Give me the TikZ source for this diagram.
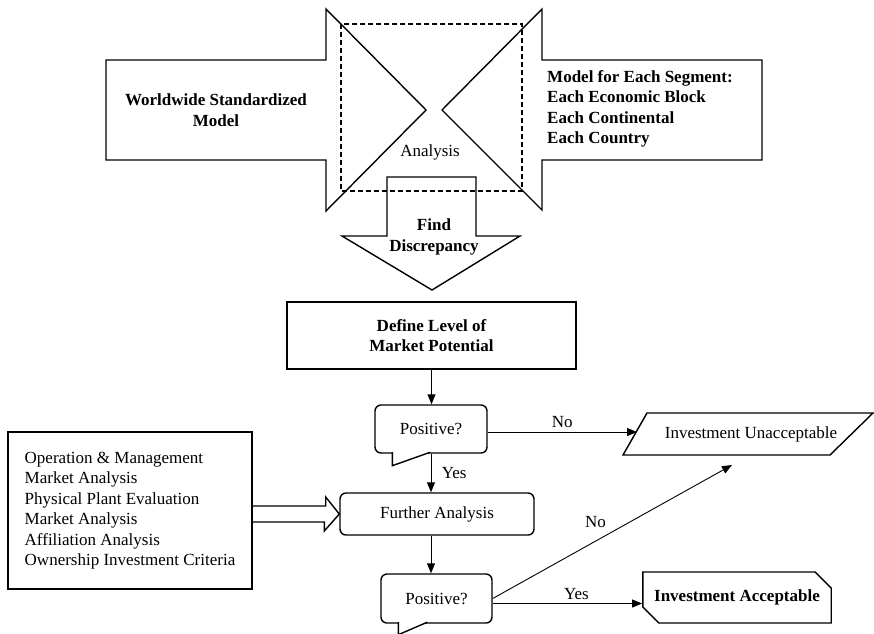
\documentclass[tikz,border=0pt]{standalone}
\usepackage{fontspec}
\setmainfont{Liberation Serif}
\usetikzlibrary{positioning,calc,arrows.meta,shapes.misc}
\newcommand{\dfont}{\fontsize{17}{20.5}\selectfont}

\begin{document}
\begin{tikzpicture}[x=1pt,y=-1pt,
    every node/.style={font=\dfont},
    bold/.style={font=\dfont\bfseries},
    blockline/.style={line width=1.4pt, line join=miter},
    dashbox/.style={line width=1.2pt, dash pattern=on 5pt off 3pt},
    box/.style={draw, line width=1.4pt, align=center},
    bubble/.style={box, rounded corners=6pt},
    flow/.style={line width=0.9pt, -{Triangle[length=10pt,width=8pt]}}]
\useasboundingbox (0,0) rectangle (874,633);

% the two models meet in the analysis
\draw[blockline] (106,60) -- (326,60) -- (326,9) -- (426,110) -- (326,211) -- (326,160) -- (106,160) -- cycle;
\draw[blockline] (762,60) -- (542,60) -- (542,9) -- (442,110) -- (542,210) -- (542,160) -- (762,160) -- cycle;
\draw[dashbox] (341,24) rectangle (522,191);
\draw[blockline] (387,177) -- (476,177) -- (476,236) -- (520,236) -- (432,290) -- (342,236) -- (387,236) -- cycle;

\node[bold, align=center] (world) at (216,110) {Worldwide Standardized\\Model};
\node[bold, align=left, anchor=west, inner sep=0pt] (segment) at (547,109) {Model for Each Segment:\\Each Economic Block\\Each Continental\\Each Country};
\node (analysis) at (430,152) {Analysis};
\node[bold, align=center] (find) at (434,237) {Find\\Discrepancy};

% flow chart
\node[box, bold, minimum width=289pt, minimum height=67pt] (level) at (431.5,335.5) {Define Level of\\Market Potential};
\node[bubble, minimum width=112pt, minimum height=48pt] (pos1) at (431,429) {Positive?};
\node[bubble, minimum width=194pt, minimum height=42pt] (further) at (437,514) {Further Analysis};
\node[bubble, minimum width=111pt, minimum height=49pt] (pos2) at (436.5,598.5) {Positive?};
\node[box, align=left, minimum width=244pt, minimum height=157pt] (criteria) at (130,510.5) {Operation \& Management\\Market Analysis\\Physical Plant Evaluation\\Market Analysis\\Affiliation Analysis\\Ownership Investment Criteria};
\node (unacc) at (751,434) {Investment Unacceptable};
\draw[blockline] (623,455) -- (647,413) -- (873,413) -- (830,455) -- cycle;
\node[bold, draw, line width=1.4pt, chamfered rectangle, chamfered rectangle corners={north east,south west}, chamfered rectangle xsep=8pt, chamfered rectangle ysep=8pt, minimum width=186pt, minimum height=51pt] (acc) at (737,597.5) {Investment Acceptable};

% callout tails
\draw[blockline, fill=white] ($(pos1.south west)+(18,-1.5)$) -- ($(pos1.south west)+(18,12)$) -- ($(pos1.south west)+(56,-1.5)$);
\draw[blockline, fill=white] ($(pos2.south west)+(18,-1.5)$) -- ($(pos2.south west)+(18,11)$) -- ($(pos2.south west)+(47,-1.5)$);

\coordinate (unaccIn) at (637,432);
\coordinate (unaccLow) at (732,465);

\draw[flow] (level.south) -- (level.south |- pos1.north);
\draw[flow] ([yshift=-3pt]pos1.east) -- node[above=1pt] {No} ([yshift=-3pt]pos1.east -| unaccIn);
\draw[flow] (pos1.south) -- node[right=7pt] {Yes} (pos1.south |- further.north);
\draw[flow] (pos1.south |- further.south) -- (pos1.south |- pos2.north);
\draw[flow] (pos2.east) -- node[above=10pt, pos=0.43] {No} (unaccLow);
\draw[flow] ([yshift=-5pt]pos2.east) -- node[above, pos=0.56] {Yes} ([yshift=-5pt]pos2.east -| acc.west);

% open arrow into the further analysis
\draw[blockline] (criteria.east |- further.west) ++(0,-8) -- ++(73,0) -- ++(0,-9) -- (further.west) -- ++(-15,17) -- ++(0,-9) -- ++(-73,0);
\end{tikzpicture}
\end{document}
